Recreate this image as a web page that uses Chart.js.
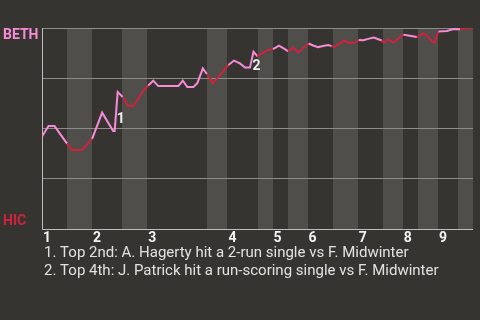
<!DOCTYPE html>
<html>
<head>
<meta charset="utf-8">
<script src="https://cdn.jsdelivr.net/npm/chart.js@4"></script>
<style>
  html, body { margin: 0; padding: 0; background: #363431; }
  canvas { display: block; }
</style>
</head>
<body>
<canvas id="wp" width="480" height="320"></canvas>
<script>
// game progress in events, win probability for BETH (%)
const events = [0, 1.3, 2.5, 5, 6, 8, 10, 12, 14.2, 14.5, 15.1, 16.1, 17.2, 18.2, 20.2, 21.2, 22.2, 23.2, 27.2, 28.1,
  29, 30.2, 31, 32.1, 32.9, 34.1, 35.5, 37.2, 38.3, 39.5, 40.5, 41.5, 42.2, 43, 44.2, 45.2, 46.1, 47.3, 48.7, 49.1,
  50.1, 51.1, 53.2, 54.1, 55.1, 56.1, 57.1, 57.8, 58.3, 59.1, 60.3, 61.1, 62.5, 63.2, 64.1, 65.1, 66.2, 67.1, 67.8, 68.2,
  69.1, 70.1, 71.4, 72.1, 73.1, 74.8, 76.1, 76.8, 77.8, 78.3, 79.1, 80.8, 82.1, 83.4, 84.1, 86];
const bethWinProb = [46, 51.2, 51.2, 42.5, 39.3, 39.3, 44.8, 57.9, 48.8, 48.8, 68.2, 65.7, 61.2, 61.2, 68.7, 71.4, 73.8, 71.1, 71.1, 73.8,
  70.6, 70.6, 72.6, 79.9, 77.1, 72.6, 76.6, 81.6, 83.8, 82.4, 80.3, 80.3, 88.2, 85.9, 87.8, 89.2, 89.5, 91.2, 89.1, 88.4,
  90.2, 87.8, 92.3, 91.3, 90.5, 91.0, 91.5, 91.0, 90.5, 91.8, 93.8, 92.7, 92.8, 94.0, 93.9, 94.6, 95.2, 94.4, 93.8, 92.7,
  94.4, 92.7, 95.5, 96.7, 96.3, 95.5, 97.3, 96.3, 93.4, 92.7, 98.3, 98.5, 99.5, 99.4, 99.9, 100];

// first event of each half inning (top, bottom, top, ...)
const halfStarts = [0, 5, 10, 16, 21, 33, 37, 43, 46, 49, 53, 58, 63, 68, 72, 75, 79, 83];
const gameEnd = 86;
const inningLabels = ['1', '2', '3', '4', '5', '6', '7', '8', '9'];
const yTicks = [0, 25, 50, 75, 100];

const awayTeam = 'BETH';
const homeTeam = 'HIC';
const noteLabels = ['1', '2'];
const noteEvents = [15.7, 42.8];
const noteProbs = [52.7, 79.1];
const footnotes = [
  '1. Top 2nd: A. Hagerty hit a 2-run single vs F. Midwinter',
  '2. Top 4th: J. Patrick hit a run-scoring single vs F. Midwinter'
];

const PINK = '#f78cd6';
const RED = '#d2213c';
const BG = '#363431';
const BAND = '#4f4e4b';

function halfIndex(x) {
  let i = 0;
  while (i + 1 < halfStarts.length && x >= halfStarts[i + 1]) i++;
  return i;
}

const backdrop = {
  id: 'backdrop',
  beforeDraw(chart) {
    const { ctx, chartArea: a, scales: { x, y } } = chart;
    ctx.save();
    ctx.fillStyle = BG;
    ctx.fillRect(0, 0, chart.width, chart.height);
    // bottom halves are shaded
    ctx.fillStyle = BAND;
    halfStarts.forEach((s, i) => {
      if (i % 2 === 0) return;
      const e = i + 1 < halfStarts.length ? halfStarts[i + 1] : gameEnd;
      const x0 = Math.round(x.getPixelForValue(s));
      const x1 = Math.round(x.getPixelForValue(e));
      ctx.fillRect(x0, a.top, x1 - x0, a.bottom - a.top);
    });
    // grid
    ctx.lineWidth = 1;
    ctx.strokeStyle = '#8c8c8a';
    yTicks.forEach(t => {
      if (t === 0) return;
      const py = Math.floor(y.getPixelForValue(t)) + 0.5;
      ctx.beginPath();
      ctx.moveTo(a.left, py);
      ctx.lineTo(a.right, py);
      ctx.stroke();
    });
    ctx.strokeStyle = '#bdbdbb';
    ctx.beginPath();
    ctx.moveTo(a.left + 0.5, a.top);
    ctx.lineTo(a.left + 0.5, Math.floor(a.bottom) + 0.5);
    ctx.lineTo(a.right, Math.floor(a.bottom) + 0.5);
    ctx.stroke();
    ctx.restore();
  },
  afterDraw(chart) {
    const { ctx, chartArea: a, scales: { x, y } } = chart;
    ctx.save();
    ctx.textBaseline = 'alphabetic';
    ctx.textAlign = 'left';
    ctx.font = 'bold 14px Roboto';
    ctx.fillStyle = PINK;
    ctx.fillText(awayTeam, 3, 39);
    ctx.fillStyle = RED;
    ctx.fillText(homeTeam, 3, 225);

    ctx.font = 'bold 14px Roboto';
    ctx.fillStyle = '#f2f2f2';
    inningLabels.forEach((lab, i) => {
      ctx.fillText(lab, x.getPixelForValue(halfStarts[i * 2]) + 1, a.bottom + 13);
    });

    ctx.textAlign = 'center';
    ctx.fillStyle = '#ececec';
    noteLabels.forEach((lab, i) => {
      ctx.fillText(lab, x.getPixelForValue(noteEvents[i]), y.getPixelForValue(noteProbs[i]));
    });

    ctx.textAlign = 'left';
    ctx.font = '15px Roboto';
    ctx.fillStyle = '#e2e2e2';
    footnotes.forEach((t, i) => ctx.fillText(t, 44, 257 + i * 18));
    ctx.restore();
  }
};

new Chart(document.getElementById('wp'), {
  type: 'line',
  data: {
    datasets: [{
      data: events.map((e, i) => ({ x: e, y: bethWinProb[i] })),
      borderColor: PINK,
      borderWidth: 2,
      pointRadius: 0,
      tension: 0,
      fill: false,
      segment: {
        borderColor: c => halfIndex((c.p0.parsed.x + c.p1.parsed.x) / 2) % 2 ? RED : PINK
      }
    }]
  },
  options: {
    responsive: false,
    animation: false,
    layout: { padding: { left: 42, right: 7, top: 28, bottom: 91 } },
    plugins: { legend: { display: false }, tooltip: { enabled: false } },
    scales: {
      x: { type: 'linear', min: 0, max: gameEnd, display: false },
      y: { min: 0, max: 100, display: false }
    }
  },
  plugins: [backdrop]
});
</script>
</body>
</html>
